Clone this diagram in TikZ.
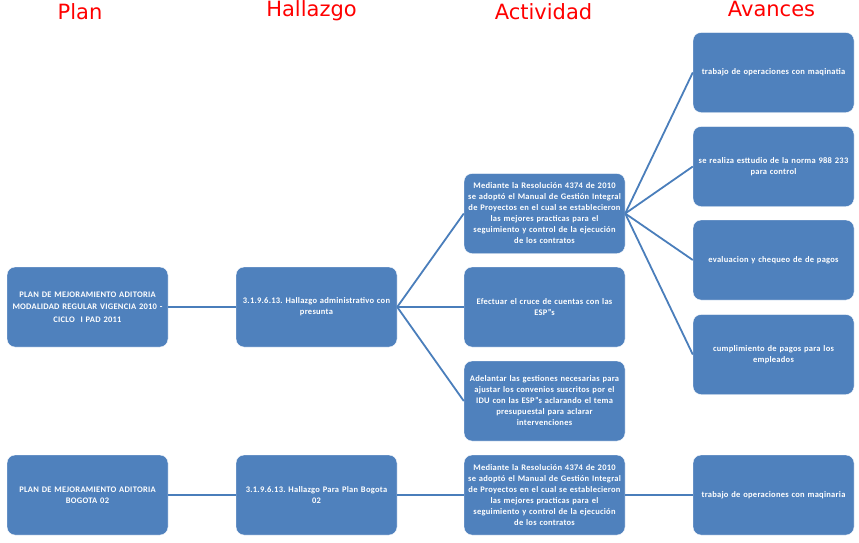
\documentclass[tikz,border=0pt]{standalone}
\usepackage{fontspec}
\setmainfont{Carlito}
\newfontfamily\titlefont{DejaVu Sans}
\definecolor{boxblue}{HTML}{4F81BD}
\definecolor{lineblue}{HTML}{4A7EBB}
\newcommand{\bx}{\fontsize{8.5}{11}\selectfont\bfseries\addfontfeature{LetterSpace=3}\frenchspacing}

\begin{document}
\begin{tikzpicture}[x=1pt,y=-1pt,
   box/.style={rectangle,rounded corners=8pt,fill=boxblue,draw=white,
      minimum width=161pt,minimum height=80pt,text width=159pt,
      align=center,inner sep=1pt,text=white,font=\bx},
   head/.style={text=red,font=\titlefont\fontsize{21}{24}\selectfont},
   link/.style={draw=lineblue,line width=1.8pt}]
   \useasboundingbox (0,0) rectangle (859,542);
   \node[head] (tplan) at (80,12) {Plan};
   \node[head] (thall) at (311.5,11) {Hallazgo};
   \node[head] (tact)  at (543.5,12) {Actividad};
   \node[head] (tav)   at (771.5,9) {Avances};
   \node[box] (plan1) at (87.5,307) {PLAN DE MEJORAMIENTO ADITORIA\\[1.5pt]MODALIDAD REGULAR VIGENCIA 2010 -\\[1.5pt]CICLO \ I PAD 2011};
   \node[box] (hall1) at (316.5,307) {3.1.9.6.13. Hallazgo administrativo con\\presunta};
   \node[box] (act1) at (544.5,213.5) {Mediante la Resolución 4374 de 2010\\se adoptó el Manual de Gestión Integral\\de Proyectos en el cual se establecieron\\las mejores practicas para el\\seguimiento y control de la ejecución\\de los contratos};
   \node[box] (act2) at (544.5,307) {Efectuar el cruce de cuentas con las\\ESP"s};
   \node[box] (act3) at (544.5,401) {Adelantar las gestiones necesarias para\\ajustar los convenios suscritos por el\\IDU con las ESP"s aclarando el tema\\presupuestal para aclarar\\intervenciones};
   \node[box] (av1) at (773.5,72.5) {trabajo de operaciones con maqinatia};
   \node[box] (av2) at (773.5,166.5) {se realiza esttudio de la norma 988 233\\para control};
   \node[box] (av3) at (773.5,260) {evaluacion y chequeo de de pagos};
   \node[box] (av4) at (773.5,354.5) {cumplimiento de pagos para los\\empleados};
   \node[box] (plan2) at (87.5,495) {PLAN DE MEJORAMIENTO ADITORIA\\BOGOTA 02};
   \node[box] (hall2) at (316.5,495) {3.1.9.6.13. Hallazgo Para Plan Bogota\\02};
   \node[box] (act4) at (544.5,495) {Mediante la Resolución 4374 de 2010\\se adoptó el Manual de Gestión Integral\\de Proyectos en el cual se establecieron\\las mejores practicas para el\\seguimiento y control de la ejecución\\de los contratos};
   \node[box] (av5) at (773.5,495) {trabajo de operaciones con maqinaria};
   \draw[link] (plan1.east) -- (hall1.west);
   \foreach \a in {act1,act2,act3}
      \draw[link] (hall1.east) -- (\a.west);
   \foreach \a in {av1,av2,av3,av4}
      \draw[link] (act1.east) -- (\a.west);
   \draw[link] (plan2.east) -- (hall2.west);
   \draw[link] (hall2.east) -- (act4.west);
   \draw[link] (act4.east) -- (av5.west);
\end{tikzpicture}
\end{document}
